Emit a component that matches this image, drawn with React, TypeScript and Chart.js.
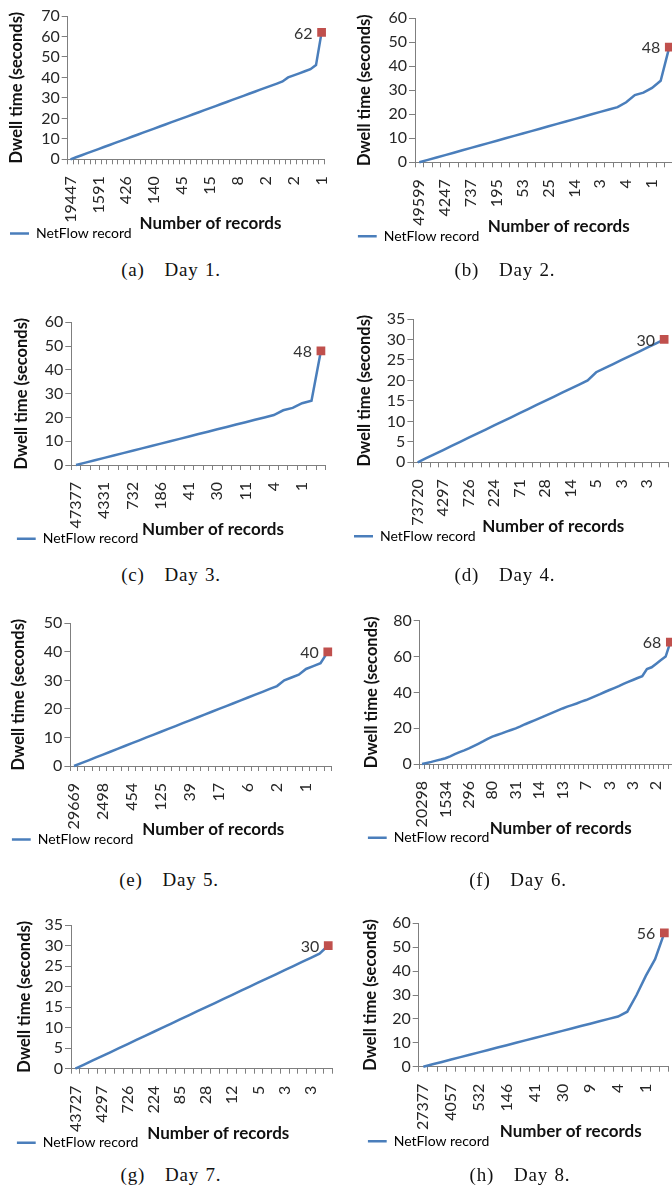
import React, { useEffect, useRef } from 'react';
import { Chart, registerables } from 'chart.js';

Chart.register(...registerables);

const FONT = 'Lato, "Open Sans", "DejaVu Sans", sans-serif';
const LINE_BLUE = '#4A7EBB';
const MARK_RED = '#C0504D';
const AXIS_GRAY = '#7F7F7F';
const TEXT_DARK = '#262626';

const X_TITLE = 'Number of records';
const Y_TITLE = 'Dwell time (seconds)';
const SERIES_NAME = 'NetFlow record';

// ---- Day 1 ----
const day1TickLabels = ['19447', '1591', '426', '140', '45', '15', '8', '2', '2', '1'];
const day1Dwell = [0, 1, 2, 3, 4, 5, 6, 7, 8, 9, 10, 11, 12, 13, 14, 15, 16, 17, 18, 19, 20, 21, 22, 23, 24, 25, 26, 27, 28, 29, 30, 31, 32, 33, 34, 35, 36, 37, 38, 40, 41, 42, 43, 44, 46, 62];
const day1LabelEvery = 5;
const day1YMax = 70;
const day1YStep = 10;

// ---- Day 2 ----
const day2TickLabels = ['49599', '4247', '737', '195', '53', '25', '14', '3', '4', '1'];
const day2Dwell = [0, 1, 2, 3, 4, 5, 6, 7, 8, 9, 10, 11, 12, 13, 14, 15, 16, 17, 18, 19, 20, 21, 22, 23, 25, 28, 29, 31, 34, 48];
const day2LabelEvery = 3;
const day2YMax = 60;
const day2YStep = 10;

// ---- Day 3 ----
const day3TickLabels = ['47377', '4331', '732', '186', '41', '30', '11', '4', '1'];
const day3Dwell = [0, 1, 2, 3, 4, 5, 6, 7, 8, 9, 10, 11, 12, 13, 14, 15, 16, 17, 18, 19, 20, 21, 23, 24, 26, 27, 48];
const day3LabelEvery = 3;
const day3YMax = 60;
const day3YStep = 10;

// ---- Day 4 ----
const day4TickLabels = ['73720', '4297', '726', '224', '71', '28', '14', '5', '3', '3'];
const day4Dwell = [0, 1, 2, 3, 4, 5, 6, 7, 8, 9, 10, 11, 12, 13, 14, 15, 16, 17, 18, 19, 20, 22, 23, 24, 25, 26, 27, 28, 29, 30];
const day4LabelEvery = 3;
const day4YMax = 35;
const day4YStep = 5;

// ---- Day 5 ----
const day5TickLabels = ['29669', '2498', '454', '125', '39', '17', '6', '2', '1'];
const day5Dwell = [0, 1, 2, 3, 4, 5, 6, 7, 8, 9, 10, 11, 12, 13, 14, 15, 16, 17, 18, 19, 20, 21, 22, 23, 24, 25, 26, 27, 28, 30, 31, 32, 34, 35, 36, 40];
const day5LabelEvery = 4;
const day5YMax = 50;
const day5YStep = 10;

// ---- Day 6 ----
const day6TickLabels = ['20298', '1534', '296', '80', '31', '14', '13', '7', '3', '3', '2'];
const day6Dwell = [0, 0.6, 1.2, 1.9, 2.5, 3.2, 4.3, 5.5, 6.6, 7.6, 8.7, 10, 11.3, 12.6, 14, 15.3, 16.2, 17.1, 18.1, 19, 19.9, 21, 22.2, 23.3, 24.4, 25.5, 26.6, 27.7, 28.8, 29.9, 31, 32, 32.9, 33.8, 34.8, 35.7, 36.8, 37.9, 39, 40.2, 41.3, 42.4, 43.5, 44.7, 45.8, 46.9, 48, 49, 53, 54, 56, 58, 60, 68];
const day6LabelEvery = 5;
const day6YMax = 80;
const day6YStep = 20;

// ---- Day 7 ----
const day7TickLabels = ['43727', '4297', '726', '224', '85', '28', '12', '5', '3', '3'];
const day7Dwell = [0, 1, 2, 3, 4, 5, 6, 7, 8, 9, 10, 11, 12, 13, 14, 15, 16, 17, 18, 19, 20, 21, 22, 23, 24, 25, 26, 27, 28, 30];
const day7LabelEvery = 3;
const day7YMax = 35;
const day7YStep = 5;

// ---- Day 8 ----
const day8TickLabels = ['27377', '4057', '532', '146', '41', '30', '9', '4', '1'];
const day8Dwell = [0, 1, 2, 3, 4, 5, 6, 7, 8, 9, 10, 11, 12, 13, 14, 15, 16, 17, 18, 19, 20, 21, 23, 30, 38, 45, 56];
const day8LabelEvery = 3;
const day8YMax = 60;
const day8YStep = 10;

type DaySpec = {
  caption: string;
  ticks: string[];
  values: number[];
  every: number;
  yMax: number;
  yStep: number;
};

const DAYS: DaySpec[] = [
  { caption: '(a)\u2003Day 1.', ticks: day1TickLabels, values: day1Dwell, every: day1LabelEvery, yMax: day1YMax, yStep: day1YStep },
  { caption: '(b)\u2003Day 2.', ticks: day2TickLabels, values: day2Dwell, every: day2LabelEvery, yMax: day2YMax, yStep: day2YStep },
  { caption: '(c)\u2003Day 3.', ticks: day3TickLabels, values: day3Dwell, every: day3LabelEvery, yMax: day3YMax, yStep: day3YStep },
  { caption: '(d)\u2003Day 4.', ticks: day4TickLabels, values: day4Dwell, every: day4LabelEvery, yMax: day4YMax, yStep: day4YStep },
  { caption: '(e)\u2003Day 5.', ticks: day5TickLabels, values: day5Dwell, every: day5LabelEvery, yMax: day5YMax, yStep: day5YStep },
  { caption: '(f)\u2003Day 6.', ticks: day6TickLabels, values: day6Dwell, every: day6LabelEvery, yMax: day6YMax, yStep: day6YStep },
  { caption: '(g)\u2003Day 7.', ticks: day7TickLabels, values: day7Dwell, every: day7LabelEvery, yMax: day7YMax, yStep: day7YStep },
  { caption: '(h)\u2003Day 8.', ticks: day8TickLabels, values: day8Dwell, every: day8LabelEvery, yMax: day8YMax, yStep: day8YStep },
];

// page layout of each panel (page pixels)
type Lay = {
  col: number;
  plotTop: number;
  plotBottom: number;
  axisX: number;
  catW: number;
  yTitleX: number;
  legendX: number;
  xTitleY: number;
  titleShift: number;
  capX: number;
  capY: number;
};

const LAYOUT: Lay[] = [
  { col: 0, plotTop: 16, plotBottom: 159.3, axisX: 67.7, catW: 5.58, yTitleX: 16.7, legendX: 10, xTitleY: 224, titleShift: 14, capX: 171, capY: 270 },
  { col: 1, plotTop: 18.3, plotBottom: 162.3, axisX: 415, catW: 8.62, yTitleX: 364.3, legendX: 357.7, xTitleY: 226.7, titleShift: 14, capX: 505, capY: 270 },
  { col: 0, plotTop: 322.3, plotBottom: 465, axisX: 71.3, catW: 9.42, yTitleX: 21.7, legendX: 16.7, xTitleY: 529.3, titleShift: 15, capX: 171, capY: 575 },
  { col: 1, plotTop: 319, plotBottom: 462.3, axisX: 413.4, catW: 8.5, yTitleX: 364.3, legendX: 354, xTitleY: 526.7, titleShift: 13, capX: 505, capY: 575 },
  { col: 0, plotTop: 623.3, plotBottom: 766, axisX: 70.4, catW: 7.25, yTitleX: 18.3, legendX: 11.7, xTitleY: 830, titleShift: 12, capX: 169, capY: 880 },
  { col: 1, plotTop: 620.7, plotBottom: 764, axisX: 419.7, catW: 4.685, yTitleX: 372, legendX: 367.7, xTitleY: 828.3, titleShift: 15, capX: 518, capY: 880 },
  { col: 0, plotTop: 925, plotBottom: 1068.7, axisX: 71, catW: 8.72, yTitleX: 25, legendX: 16.7, xTitleY: 1133.3, titleShift: 16, capX: 171, capY: 1175 },
  { col: 1, plotTop: 923.3, plotBottom: 1066.7, axisX: 418.7, catW: 9.27, yTitleX: 371, legendX: 367.7, xTitleY: 1131.7, titleShift: 27, capX: 520, capY: 1175 },
];

const TICK_SIZE = 16;
const TITLE_X_SIZE = 17;
const TITLE_Y_SIZE = 16.5;
const LEGEND_SIZE = 14;
const TITLE_SPACE_W = 4.2;

const peakLabel = {
  id: 'peakLabel',
  afterDatasetsDraw(chart: any) {
    const meta = chart.getDatasetMeta(0);
    const data = chart.data.datasets[0].data as number[];
    const i = data.length - 1;
    const pt = meta.data[i];
    if (!pt) return;
    const ctx = chart.ctx;
    ctx.save();
    ctx.font = `${TICK_SIZE}px ${FONT}`;
    ctx.fillStyle = '#333333';
    ctx.textAlign = 'right';
    ctx.textBaseline = 'middle';
    ctx.fillText(String(data[i]), pt.x - 9, pt.y + 1);
    ctx.restore();
  },
};

function DayChart({ day, lay }: { day: DaySpec; lay: Lay }) {
  const ref = useRef<HTMLCanvasElement>(null);
  const canvasLeft = lay.col === 0 ? 0 : 336;
  const canvasW = 380;
  const canvasTop = Math.floor(lay.plotTop - 16);
  const n = day.values.length;
  const plotRight = lay.axisX + n * lay.catW;
  const xH = lay.xTitleY + 2.5 - lay.plotBottom;
  const legendH = LEGEND_SIZE + 10;
  const needH = lay.plotBottom - canvasTop + xH + legendH;
  const canvasH = Math.ceil(needH) + 2;
  const pad = {
    top: lay.plotTop - canvasTop,
    left: lay.legendX - canvasLeft,
    right: canvasLeft + canvasW - plotRight,
    bottom: canvasH - needH,
  };
  const yW = lay.axisX - lay.legendX;
  const yTitlePad = lay.yTitleX - lay.legendX - (TITLE_Y_SIZE * 1.2) / 2;
  const xTitleText = '\u0020'.repeat(Math.round((2 * lay.titleShift) / TITLE_SPACE_W)) + X_TITLE;

  useEffect(() => {
    const labels = day.values.map((_, i) => (i % day.every === 0 ? day.ticks[i / day.every] ?? '' : ''));
    const last = n - 1;
    const chart = new Chart(ref.current as HTMLCanvasElement, {
      type: 'line',
      data: {
        labels,
        datasets: [
          {
            label: SERIES_NAME,
            data: day.values,
            borderColor: LINE_BLUE,
            backgroundColor: LINE_BLUE,
            borderWidth: 2.5,
            tension: 0,
            fill: false,
            clip: false as any,
            pointStyle: 'rect',
            pointRadius: day.values.map((_, i) => (i === last ? 4.4 : 0)),
            pointHoverRadius: 0,
            pointBackgroundColor: MARK_RED,
            pointBorderColor: MARK_RED,
            pointBorderWidth: 2.5,
          },
        ],
      },
      options: {
        responsive: false,
        animation: false,
        devicePixelRatio: 1,
        events: [],
        layout: { padding: pad },
        plugins: {
          tooltip: { enabled: false },
          legend: {
            display: true,
            position: 'bottom',
            align: 'start',
            labels: {
              usePointStyle: true,
              pointStyle: 'line',
              pointStyleWidth: 19,
              padding: 0,
              font: { size: LEGEND_SIZE, family: FONT },
              color: TEXT_DARK,
              generateLabels: (c: any) =>
                c.data.datasets.map((ds: any, i: number) => ({
                  text: ds.label,
                  strokeStyle: ds.borderColor,
                  fillStyle: ds.borderColor,
                  lineWidth: ds.borderWidth,
                  pointStyle: 'line',
                  hidden: false,
                  datasetIndex: i,
                })),
            },
          },
        },
        scales: {
          x: {
            type: 'category',
            offset: true,
            grid: {
              display: true,
              drawOnChartArea: false,
              drawTicks: true,
              tickLength: 5,
              tickWidth: 1,
              lineWidth: 1,
              offset: true,
              color: AXIS_GRAY,
              tickColor: AXIS_GRAY,
            },
            border: { display: true, color: AXIS_GRAY, width: 1 },
            ticks: {
              autoSkip: false,
              maxRotation: 90,
              minRotation: 90,
              padding: 12,
              font: { size: TICK_SIZE, family: FONT },
              color: TEXT_DARK,
            },
            title: {
              display: true,
              text: xTitleText,
              font: { size: TITLE_X_SIZE, weight: 'bold', family: FONT },
              color: '#111111',
              padding: { top: 0, bottom: -7.7 },
            },
            afterFit: (s: any) => {
              s.height = xH;
            },
          },
          y: {
            min: 0,
            max: day.yMax,
            grid: {
              display: true,
              drawOnChartArea: false,
              drawTicks: true,
              tickLength: 6,
              tickWidth: 1,
              lineWidth: 1,
              color: AXIS_GRAY,
              tickColor: AXIS_GRAY,
            },
            border: { display: true, color: AXIS_GRAY, width: 1 },
            ticks: {
              autoSkip: false,
              stepSize: day.yStep,
              padding: 2,
              font: { size: TICK_SIZE, family: FONT },
              color: TEXT_DARK,
            },
            title: {
              display: true,
              text: Y_TITLE,
              font: { size: TITLE_Y_SIZE, weight: 'bold', family: FONT },
              color: '#111111',
              padding: { top: yTitlePad, bottom: 0 },
            },
            afterFit: (s: any) => {
              s.width = yW;
            },
          },
        },
      } as any,
      plugins: [peakLabel],
    });
    return () => chart.destroy();
  }, []);

  return (
    <>
      <canvas
        ref={ref}
        width={canvasW}
        height={canvasH}
        style={{ position: 'absolute', left: canvasLeft, top: canvasTop, width: canvasW, height: canvasH }}
      />
      <div
        style={{
          position: 'absolute',
          left: lay.capX - 90,
          width: 180,
          top: lay.capY - 12,
          height: 24,
          lineHeight: '24px',
          textAlign: 'center',
          fontFamily: '"Liberation Serif", "DejaVu Serif", serif',
          fontSize: 19,
          letterSpacing: 0.8,
          wordSpacing: 1,
          color: '#111',
          whiteSpace: 'pre',
        }}
      >
        {day.caption}
      </div>
    </>
  );
}

export default function App() {
  return (
    <div
      style={{
        position: 'absolute',
        left: 0,
        top: 0,
        width: 672,
        height: 1186,
        overflow: 'hidden',
        background: '#ffffff',
      }}
    >
      {DAYS.map((d, i) => (
        <DayChart key={i} day={d} lay={LAYOUT[i]} />
      ))}
    </div>
  );
}
